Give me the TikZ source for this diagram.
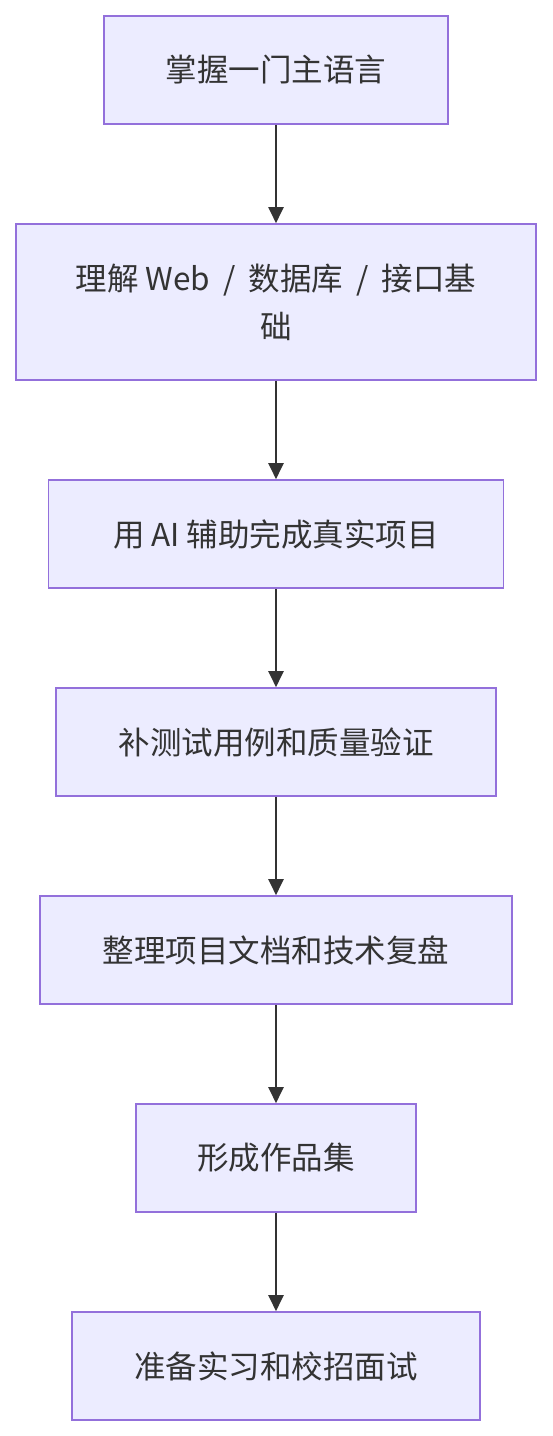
\documentclass[tikz,border=0pt]{standalone}
\usepackage{fontspec}
\setmainfont{Noto Sans CJK SC}
\usetikzlibrary{arrows.meta}
\definecolor{boxFill}{HTML}{ECECFF}
\definecolor{boxLine}{HTML}{9370DB}
\definecolor{ink}{HTML}{333333}
\begin{document}
\begin{tikzpicture}[x=1pt, y=-1pt,
            stage/.style={rectangle, draw=boxLine, fill=boxFill, line width=1.6pt, minimum height=108pt,
                          text=ink, font=\fontsize{31.5}{48}\selectfont, align=center, inner sep=0pt},
            flow/.style={draw=ink, line width=2pt, -{Triangle[length=16pt, width=15pt]}}]

            \useasboundingbox (0,0) rectangle (552,1436);

            \node[stage, minimum width=344pt] (lang) at (276,70) {掌握一门主语言};
            \node[stage, minimum width=520pt, minimum height=156pt] (basis) at (276,302)
                {理解 Web\hspace{6pt} / \hspace{6pt}数据库\hspace{6pt} / \hspace{6pt}接口基\\础};
            \node[stage, minimum width=455pt] (proj) at (276,534) {用 AI 辅助完成真实项目};
            \node[stage, minimum width=440pt] (test) at (276,742) {补测试用例和质量验证};
            \node[stage, minimum width=472pt] (docs) at (276,950) {整理项目文档和技术复盘};
            \node[stage, minimum width=280pt] (folio) at (276,1158) {形成作品集};
            \node[stage, minimum width=408pt] (intv) at (276,1366) {准备实习和校招面试};

            \draw[flow] (lang) -- (basis);
            \draw[flow] (basis) -- (proj);
            \draw[flow] (proj) -- (test);
            \draw[flow] (test) -- (docs);
            \draw[flow] (docs) -- (folio);
            \draw[flow] (folio) -- (intv);

        \end{tikzpicture}
\end{document}
